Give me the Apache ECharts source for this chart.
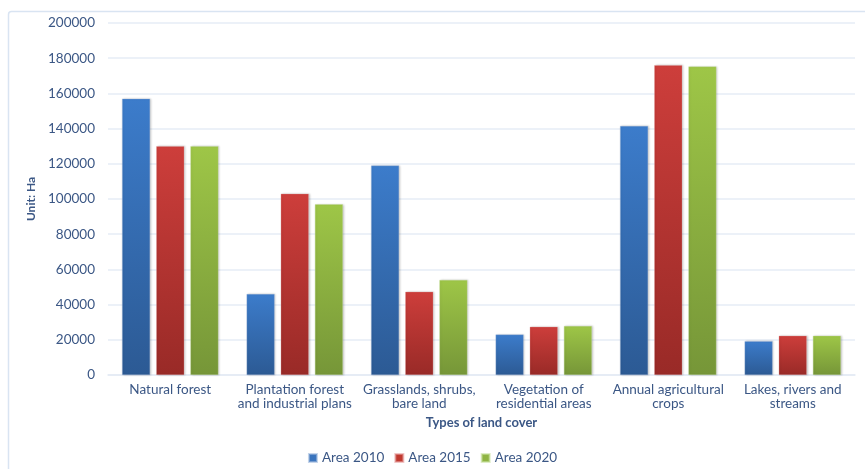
<!DOCTYPE html>
<html><head><meta charset="utf-8">
<script src="https://cdn.jsdelivr.net/npm/echarts@6/dist/echarts.min.js"></script>
<style>html,body{margin:0;padding:0;background:#fff}#c{width:865px;height:469px}</style>
</head><body><div id="c"></div>
<script>
const categories = ["Natural forest", "Plantation forest\nand industrial plans", "Grasslands, shrubs,\nbare land", "Vegetation of\nresidential areas", "Annual agricultural\ncrops", "Lakes, rivers and\nstreams"];
const area2010 = [157000, 46000, 119000, 23000, 141500, 19200];
const area2015 = [130000, 103000, 47300, 27400, 176000, 22300];
const area2020 = [130000, 97000, 54000, 27800, 175300, 22300];
const yTicks = [0, 20000, 40000, 60000, 80000, 100000, 120000, 140000, 160000, 180000, 200000];

const font = "Lato, 'Open Sans', sans-serif";
const txt = '#3b5785';
function grad(top, bottom) {
  return new echarts.graphic.LinearGradient(0, 0, 0, 1, [{offset: 0, color: top}, {offset: 1, color: bottom}]);
}
const chart = echarts.init(document.getElementById('c'));
chart.setOption({
  animation: false,
  backgroundColor: '#fff',
  graphic: [{
    type: 'rect', left: 6, top: 9, z: -10,
    shape: {width: 880, height: 480, r: 3},
    style: {fill: 'none', stroke: '#d9e4f2', lineWidth: 1.5}
  }],
  grid: {left: 108, right: 10, top: 23, bottom: 94, containLabel: false},
  legend: {
    top: 446, left: 'center', itemWidth: 8, itemHeight: 8, itemGap: 10,
    icon: 'rect',
    textStyle: {color: txt, fontSize: 13.5, fontFamily: font},
    data: [
      {name: 'Area 2010', itemStyle: {color: '#3a74bd'}},
      {name: 'Area 2015', itemStyle: {color: '#c0392f'}},
      {name: 'Area 2020', itemStyle: {color: '#8fb443'}}
    ]
  },
  xAxis: {
    type: 'category', data: categories,
    name: 'Types of land cover', nameLocation: 'middle', nameGap: 40,
    nameTextStyle: {color: txt, fontSize: 13, fontWeight: 'bold', fontFamily: font},
    axisLine: {lineStyle: {color: '#e3eaf4', width: 1.5}},
    axisTick: {show: false},
    axisLabel: {color: txt, fontSize: 13.5, fontFamily: font, lineHeight: 14, margin: 8, interval: 0}
  },
  yAxis: {
    type: 'value', min: yTicks[0], max: yTicks[yTicks.length - 1], interval: yTicks[1] - yTicks[0],
    name: 'Unit: Ha', nameLocation: 'middle', nameGap: 60, nameRotate: 90,
    nameTextStyle: {color: txt, fontSize: 12, fontWeight: 'bold', fontFamily: font},
    axisLine: {show: false}, axisTick: {show: false},
    axisLabel: {color: txt, fontSize: 13.5, fontFamily: font, margin: 13, formatter: v => String(v)},
    splitLine: {lineStyle: {color: '#e6edf6', width: 1.5}}
  },
  series: [
    {name: 'Area 2010', type: 'bar', data: area2010, barWidth: 28, barGap: '22%',
      itemStyle: {color: grad('#3c7ccb', '#2c5a94'), borderColor: 'rgba(160,185,220,0.6)', borderWidth: 0.5, shadowColor: 'rgba(0,0,0,0.2)', shadowBlur: 2, shadowOffsetX: 1}},
    {name: 'Area 2015', type: 'bar', data: area2015, barWidth: 28, barGap: '22%',
      itemStyle: {color: grad('#cd3e3b', '#992a27'), borderColor: 'rgba(230,160,160,0.6)', borderWidth: 0.5, shadowColor: 'rgba(0,0,0,0.2)', shadowBlur: 2, shadowOffsetX: 1}},
    {name: 'Area 2020', type: 'bar', data: area2020, barWidth: 28, barGap: '22%',
      itemStyle: {color: grad('#9ec647', '#769638'), borderColor: 'rgba(200,225,160,0.6)', borderWidth: 0.5, shadowColor: 'rgba(0,0,0,0.2)', shadowBlur: 2, shadowOffsetX: 1}}
  ]
});
</script></body></html>
